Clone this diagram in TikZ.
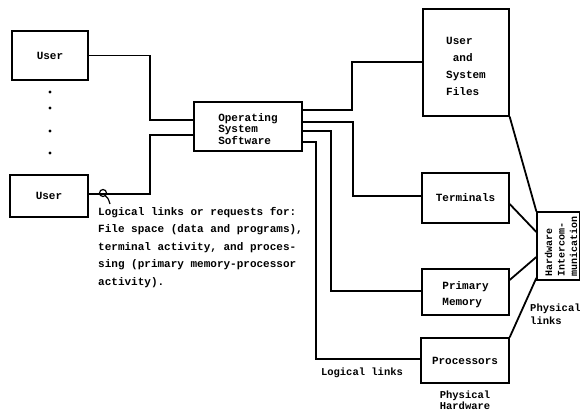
\documentclass[tikz,border=0pt]{standalone}
\usepackage{fontspec}
\setmonofont{Liberation Mono}
\begin{document}
\begin{tikzpicture}[x=1pt,y=-1pt,
  box/.style={draw, line width=1.3pt, inner sep=0pt, align=left,
    font=\ttfamily\bfseries\fontsize{11}{11.7}\selectfont},
  tallbox/.style={box, font=\ttfamily\bfseries\fontsize{11}{17}\selectfont},
  midbox/.style={box, font=\ttfamily\bfseries\fontsize{11}{16}\selectfont},
  link/.style={line width=1.8pt},
  lbl/.style={inner sep=0pt, align=left,
    font=\ttfamily\bfseries\fontsize{11}{17.5}\selectfont},
  small/.style={inner sep=0pt, align=left,
    font=\ttfamily\bfseries\fontsize{10.5}{12.5}\selectfont}]
\useasboundingbox (0,0) rectangle (580,412);

% boxes
\node[box, minimum width=76pt, minimum height=49pt] (u1) at (50,55.5) {User};
\node[box, minimum width=78pt, minimum height=42pt] (u2) at (49,196) {User};
\node[box, minimum width=108pt, minimum height=49pt] (os) at (248,126.5) {\rule{0pt}{13pt}Operating\\System\\Software};
\node[tallbox, minimum width=86pt, minimum height=107pt] (files) at (466,62.5) {\rule{0pt}{16pt}User\\\hphantom{a}and\\System\\Files};
\node[box, minimum width=87pt, minimum height=50pt] (term) at (465.5,198) {Terminals};
\node[midbox, minimum width=87pt, minimum height=46pt] (pm) at (465.5,292) {\rule{0pt}{14pt}Primary\\Memory};
\node[box, minimum width=88pt, minimum height=45pt] (proc) at (465,360.5) {Processors};
\node[draw, line width=1.3pt, minimum width=43pt, minimum height=68pt, inner sep=0pt] (hw) at (558.5,246) {};
\node[small, rotate=90, font=\ttfamily\bfseries\fontsize{10}{12.5}\selectfont] (hwt) at (561,246) {Hardware\\Intercom-\\munication};

% dots
\foreach \yy in {92,108,131,153} \fill (50,\yy) circle (1.6pt);

% links users -> OS
\draw[link] (u1.east) -| (150,120) -- (os.west |- 0,120);
\draw[link] (u2.east |- 0,194) -| (150,135) -- (os.west |- 0,135);
% loop mark
\draw[line width=1.2pt] (103,193) circle (3.5pt);
\draw[line width=1.2pt] (105.5,196) .. controls (108,198) .. (110,204);

% OS -> resources
\draw[link] (os.east |- 0,110) -| (352,62) -- (files.west |- 0,62);
\draw[link] (os.east |- 0,122) -| (353,196) -- (term.west |- 0,196);
\draw[link] (os.east |- 0,131) -| (331,291) -- (pm.west |- 0,291);
\draw[link] (os.east |- 0,142) -| (316,359) -- (proc.west |- 0,359);

% physical links
\draw[link] (files.south east) -- (hw.north west);
\draw[link] (term.east |- 0,204) -- (hw.west |- 0,232);
\draw[link] (pm.east |- 0,280) -- (hw.west |- 0,257);
\draw[link] (proc.north east) -- (hw.west |- 0,278);

% labels
\node[lbl, anchor=north west] (cap) at (98,207) {Logical links or requests for:\\File space (data and programs),\\terminal activity, and proces-\\sing (primary memory-processor\\activity).};
\node[small] (ll) at (362,373) {Logical links};
\node[small, align=center, font=\ttfamily\bfseries\fontsize{10.5}{11}\selectfont] (ph) at (465,400) {Physical\\Hardware};
\node[small, anchor=west, font=\ttfamily\bfseries\fontsize{10.5}{13}\selectfont] (pl) at (530,314.5) {Physical\\links};
\end{tikzpicture}
\end{document}
